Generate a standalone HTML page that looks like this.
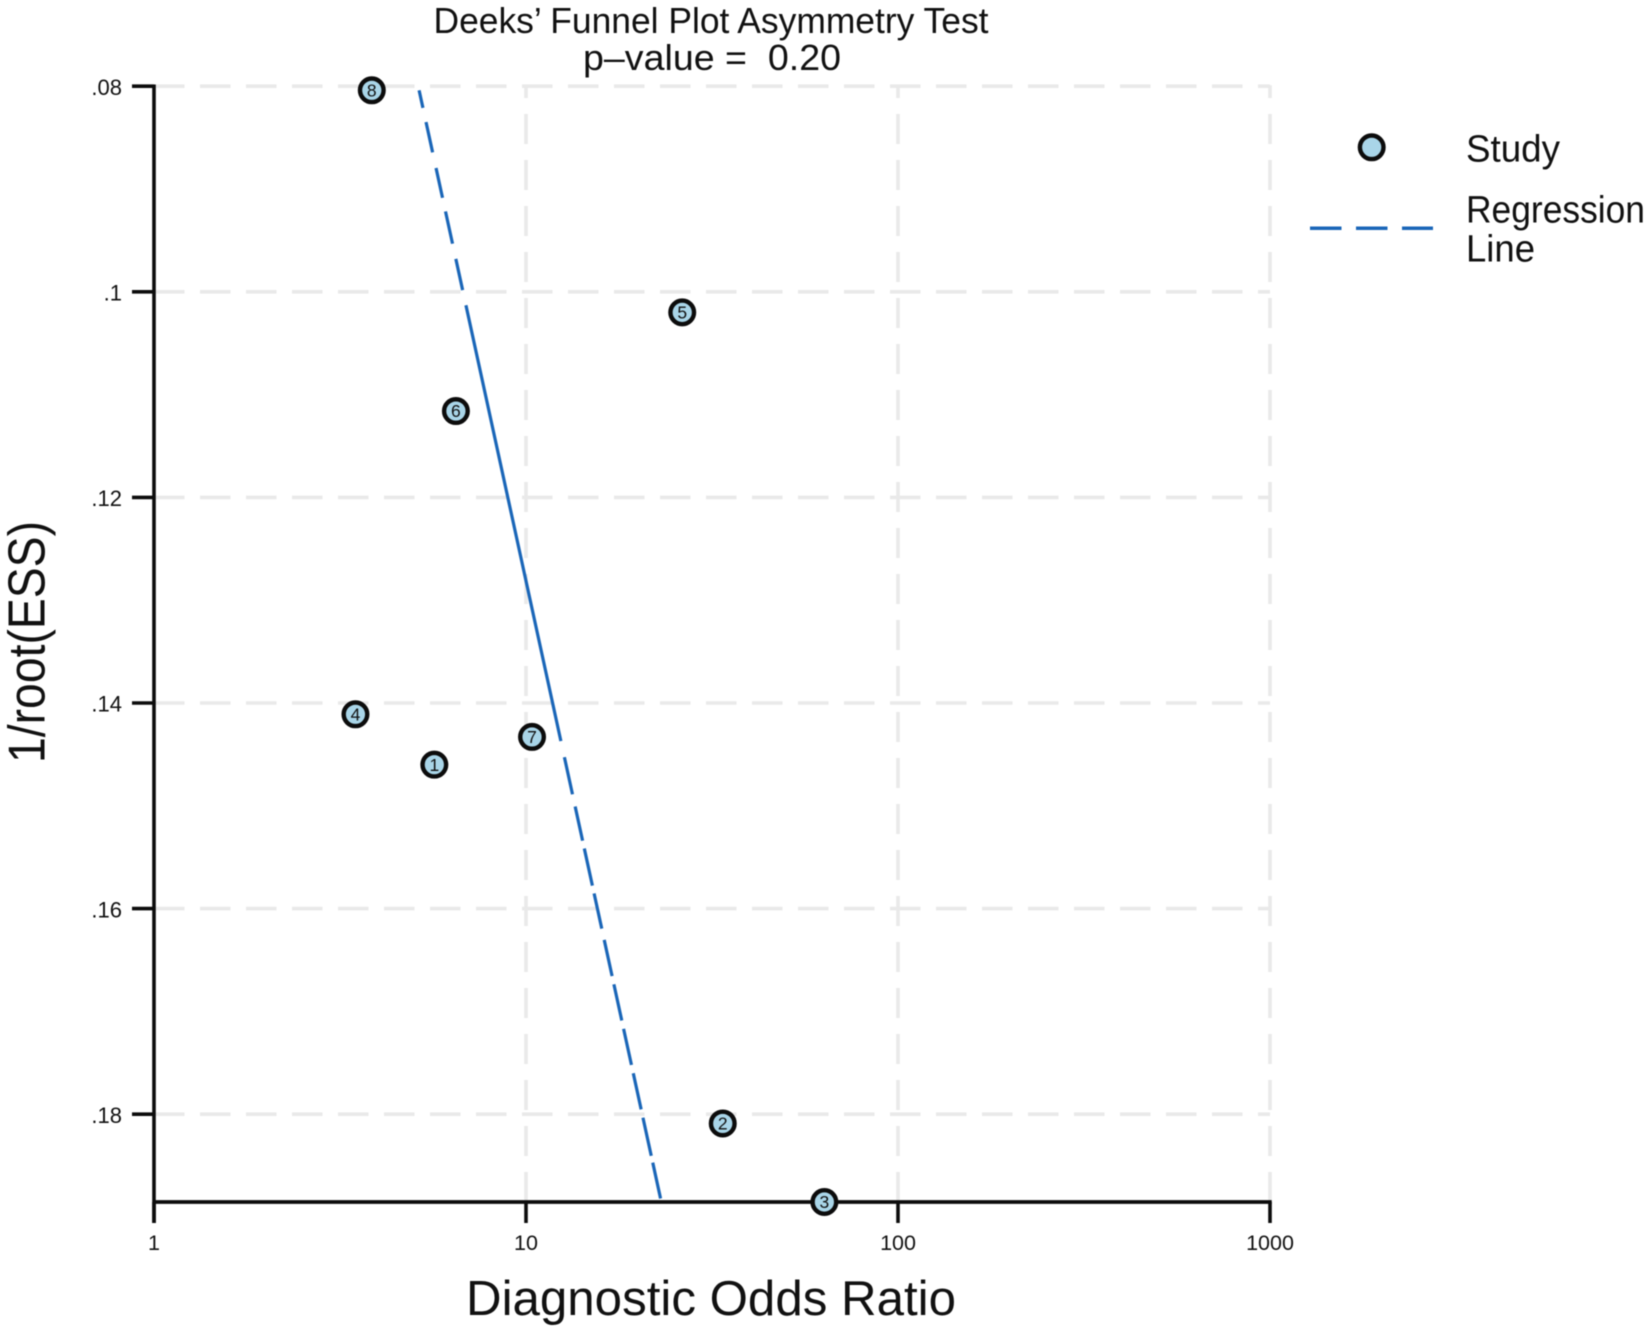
<!DOCTYPE html>
<html lang="en">
<head>
<meta charset="utf-8">
<title>Deeks' Funnel Plot Asymmetry Test</title>
<style>
  html, body { margin: 0; padding: 0; background: #fff; }
  svg { display: block; filter: blur(0.5px); }
  text { font-family: "Liberation Sans", sans-serif; fill: #111; white-space: pre; }
</style>
</head>
<body>
<svg id="chart" xmlns="http://www.w3.org/2000/svg" width="1650" height="1332" viewBox="0 0 1650 1332">
  <rect x="0" y="0" width="1650" height="1332" fill="#ffffff"/>
  <g id="grid"></g>
  <g id="axes"></g>
  <g id="regression"></g>
  <g id="points"></g>

  <text x="433.5" y="33" font-size="36" textLength="555" lengthAdjust="spacingAndGlyphs">Deeks’ Funnel Plot Asymmetry Test</text>
  <text x="583" y="70" font-size="36" textLength="258" lengthAdjust="spacingAndGlyphs">p–value =  0.20</text>
  <text x="466" y="1315" font-size="49" textLength="490" lengthAdjust="spacingAndGlyphs">Diagnostic Odds Ratio</text>
  <text transform="translate(44.5 763) rotate(-90)" x="0" y="0" font-size="52" textLength="242" lengthAdjust="spacingAndGlyphs">1/root(ESS)</text>

  <g>
    <circle cx="1371.7" cy="147.3" r="11.8" fill="#a9d5e8" stroke="#0c0c0c" stroke-width="4.4"/>
    <text x="1466" y="161.7" font-size="38" textLength="94" lengthAdjust="spacingAndGlyphs">Study</text>
    <line x1="1310" y1="228.3" x2="1433" y2="228.3" stroke="#1a66b8" stroke-width="3.5" stroke-dasharray="31.5 14.5"/>
    <text x="1466" y="222.7" font-size="38" textLength="179" lengthAdjust="spacingAndGlyphs">Regression</text>
    <text x="1466" y="261.7" font-size="38" textLength="69" lengthAdjust="spacingAndGlyphs">Line</text>
  </g>
</svg>

<script>
// Chart data
const studyIds = ["1", "2", "3", "4", "5", "6", "7", "8"];
const diagnosticOddsRatio = [5.67, 33.8, 63.4, 3.48, 26.3, 6.48, 10.38, 3.85];
const inverseRootEss = [0.1460, 0.1809, 0.18854, 0.1411, 0.1020, 0.1116, 0.1433, 0.0804];
const regressionOdds = [5.16, 23.0];
const regressionEss = [0.0804, 0.1882];
const xTickValues = [1, 10, 100, 1000];
const xTickLabels = ["1", "10", "100", "1000"];
const yTickValues = [0.08, 0.10, 0.12, 0.14, 0.16, 0.18];
const yTickLabels = [".08", ".1", ".12", ".14", ".16", ".18"];

// Axis functions
const plotLeft = 154, decadeWidth = 372;
const plotTop = 86.2, plotBottom = 1202, yUnit = 205.6 / 0.02;
function xScale(v) { return plotLeft + Math.log10(v) * decadeWidth; }
function yScale(v) { return plotTop + (v - 0.08) * yUnit; }

const NS = "http://www.w3.org/2000/svg";
function make(tag, parent, attrs) {
  const el = document.createElementNS(NS, tag);
  for (const k in attrs) el.setAttribute(k, attrs[k]);
  parent.appendChild(el);
  return el;
}

const gridG = document.getElementById("grid");
const axesG = document.getElementById("axes");
const regG = document.getElementById("regression");
const ptsG = document.getElementById("points");
const plotRight = xScale(1000);

// Gridlines
yTickValues.forEach(function (v, i) {
  const g = make("line", gridG, { x1: plotLeft, x2: plotRight, y1: yScale(v), y2: yScale(v), stroke: "#e9e9e9", "stroke-width": 3.6, "stroke-dasharray": "30.5 15.5" });
  
  
});
xTickValues.slice(1).forEach(function (v, i) {
  const g = make("line", gridG, { x1: xScale(v), x2: xScale(v), y1: plotBottom, y2: plotTop - 1, stroke: "#e9e9e9", "stroke-width": 3.6, "stroke-dasharray": "30 16" });
  
  
});

// Axis lines
const yAxisLine = make("line", axesG, { x1: plotLeft, x2: plotLeft, y1: plotTop - 1.7, y2: 1223, stroke: "#0c0c0c", "stroke-width": 3.6 });


const xAxisLine = make("line", axesG, { x1: plotLeft, x2: plotRight + 1.7, y1: plotBottom, y2: plotBottom, stroke: "#0c0c0c", "stroke-width": 3.8 });



// Y ticks
yTickValues.forEach(function (v, i) {
  const t = make("line", axesG, { x1: 132, x2: plotLeft, y1: yScale(v), y2: yScale(v), stroke: "#0c0c0c", "stroke-width": 3.6 });
  
  
  const l = make("text", axesG, { x: 122, y: yScale(v) + 8.7, "font-size": 22, "text-anchor": "end" });
  
  
  l.textContent = yTickLabels[i];
});

// X ticks
xTickValues.forEach(function (v, i) {
  const t = make("line", axesG, { x1: xScale(v), x2: xScale(v), y1: plotBottom, y2: 1223, stroke: "#0c0c0c", "stroke-width": 3.6 });
  
  
  const l = make("text", axesG, { x: xScale(v), y: 1250, "font-size": 21.5, "text-anchor": "middle" });
  
  
  l.textContent = xTickLabels[i];
});

// Regression line
const regLine = make("line", regG, {
  x1: xScale(regressionOdds[0]), y1: yScale(regressionEss[0]),
  x2: xScale(regressionOdds[1]), y2: yScale(regressionEss[1]),
  stroke: "#1a66b8", "stroke-width": 3.2,
  "stroke-dasharray": "18 14.5 31 16 30.5 14 33 15.5 32 15.5 446 16.5 38 12.5 35 8 38 8 36 11.5 37 8.5 37 8.5 37 8.5 37 8.5 39 7 38"
});



// Study points
studyIds.forEach(function (id, i) {
  const cx = xScale(diagnosticOddsRatio[i]);
  const cy = yScale(inverseRootEss[i]);
  const c = make("circle", ptsG, { cx: cx, cy: cy, r: 11.8, fill: "#a9d5e8", stroke: "#0c0c0c", "stroke-width": 4.4 });
  
  
  const t = make("text", ptsG, { x: cx, y: cy + 6.2, "font-size": 17.5, "text-anchor": "middle" });
  
  
  t.textContent = id;
});
</script>
</body>
</html>
